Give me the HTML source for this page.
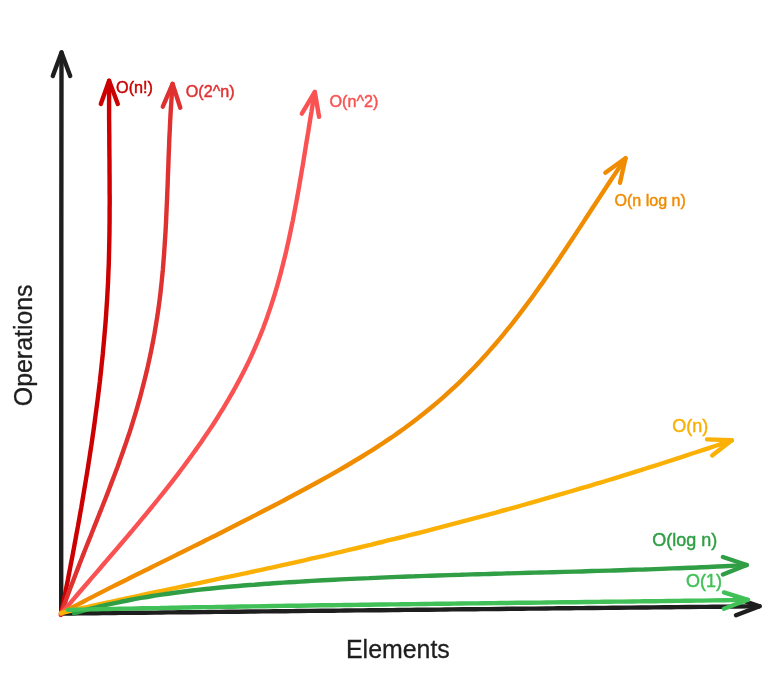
<!DOCTYPE html>
<html><head><meta charset="utf-8"><title>Big O</title>
<style>
html,body{margin:0;padding:0;background:#fff;}
body{width:769px;height:675px;overflow:hidden;}
svg{display:block;}
svg path{fill:none;stroke-width:4.4;stroke-linecap:round;stroke-linejoin:round;}
svg text{font-family:"Liberation Sans",Helvetica,Arial,sans-serif;}
</style></head><body>
<svg width="769" height="675" viewBox="0 0 769 675">
<rect width="769" height="675" fill="#ffffff"/>
<g stroke="#1e1e1e"><path d="M61.2 614.0 C61.2 561.7 61.2 393.6 61.3 300.0 C61.3 206.4 61.5 93.7 61.5 52.4"/><path d="M52.8 76.0 L61.5 52.4 L70.2 76.0"/></g>
<g stroke="#1e1e1e"><path d="M61.0 613.6 C63.0 613.6 68.9 613.5 72.8 613.5 C76.8 613.4 80.7 613.4 84.7 613.3 C88.6 613.3 92.6 613.3 96.5 613.2 C100.5 613.2 104.4 613.1 108.4 613.1 C112.3 613.0 116.3 613.0 120.2 612.9 C124.1 612.9 128.1 612.9 132.0 612.8 C136.0 612.8 139.9 612.7 143.9 612.7 C147.8 612.6 151.8 612.6 155.7 612.6 C159.7 612.5 163.6 612.5 167.6 612.4 C171.5 612.4 175.5 612.3 179.4 612.3 C183.4 612.3 187.3 612.2 191.2 612.2 C195.2 612.1 199.1 612.1 203.1 612.1 C207.0 612.0 211.0 612.0 214.9 611.9 C218.9 611.9 222.8 611.8 226.8 611.8 C230.7 611.8 234.7 611.7 238.6 611.7 C242.6 611.6 246.5 611.6 250.4 611.5 C254.4 611.5 258.3 611.5 262.3 611.4 C266.2 611.4 270.2 611.3 274.1 611.3 C278.1 611.3 282.0 611.2 286.0 611.2 C289.9 611.1 293.9 611.1 297.8 611.0 C301.8 611.0 305.7 611.0 309.7 610.9 C313.6 610.9 317.5 610.8 321.5 610.8 C325.4 610.8 329.4 610.7 333.3 610.7 C337.3 610.6 341.2 610.6 345.2 610.5 C349.1 610.5 353.1 610.5 357.0 610.4 C361.0 610.4 364.9 610.3 368.9 610.3 C372.8 610.3 376.7 610.2 380.7 610.2 C384.6 610.1 388.6 610.1 392.5 610.1 C396.5 610.0 400.4 610.0 404.4 609.9 C408.3 609.9 412.3 609.8 416.2 609.8 C420.2 609.8 424.1 609.7 428.1 609.7 C432.0 609.6 436.0 609.6 439.9 609.6 C443.8 609.5 447.8 609.5 451.7 609.4 C455.7 609.4 459.6 609.4 463.6 609.3 C467.5 609.3 471.5 609.2 475.4 609.2 C479.4 609.2 483.3 609.1 487.3 609.1 C491.2 609.0 495.2 609.0 499.1 609.0 C503.1 608.9 507.0 608.9 510.9 608.8 C514.9 608.8 518.8 608.7 522.8 608.7 C526.7 608.7 530.7 608.6 534.6 608.6 C538.6 608.5 542.5 608.5 546.5 608.5 C550.4 608.4 554.4 608.4 558.3 608.3 C562.3 608.3 566.2 608.3 570.1 608.2 C574.1 608.2 578.0 608.1 582.0 608.1 C585.9 608.1 589.9 608.0 593.8 608.0 C597.8 607.9 601.7 607.9 605.7 607.9 C609.6 607.8 613.6 607.8 617.5 607.7 C621.5 607.7 625.4 607.7 629.4 607.6 C633.3 607.6 637.2 607.5 641.2 607.5 C645.1 607.5 649.1 607.4 653.0 607.4 C657.0 607.3 660.9 607.3 664.9 607.3 C668.8 607.2 672.8 607.2 676.7 607.1 C680.7 607.1 684.6 607.1 688.6 607.0 C692.5 607.0 696.4 606.9 700.4 606.9 C704.3 606.9 708.3 606.8 712.2 606.8 C716.2 606.7 720.1 606.7 724.1 606.7 C728.0 606.6 732.0 606.6 735.9 606.5 C739.9 606.5 743.8 606.5 747.8 606.4 C751.7 606.4 757.6 606.3 759.6 606.3"/><path d="M735.5 598.0 L759.6 606.3 L736.0 615.3"/></g>
<g stroke="#cc0000"><path d="M60.9 614.9 C61.2 613.4 62.1 608.9 62.7 606.0 C63.3 603.0 63.9 600.0 64.5 597.0 C65.0 594.1 65.6 591.1 66.2 588.1 C66.8 585.1 67.4 582.1 68.0 579.2 C68.5 576.2 69.1 573.2 69.7 570.2 C70.3 567.2 70.8 564.2 71.4 561.3 C72.0 558.3 72.6 555.3 73.1 552.3 C73.7 549.3 74.2 546.3 74.8 543.3 C75.3 540.3 75.9 537.4 76.4 534.4 C77.0 531.4 77.5 528.4 78.1 525.4 C78.6 522.4 79.2 519.4 79.7 516.4 C80.2 513.4 80.7 510.4 81.3 507.4 C81.8 504.4 82.3 501.4 82.8 498.4 C83.3 495.4 83.8 492.4 84.3 489.4 C84.8 486.5 85.3 483.5 85.8 480.5 C86.3 477.5 86.8 474.5 87.3 471.4 C87.8 468.4 88.3 465.4 88.7 462.4 C89.2 459.4 89.7 456.4 90.1 453.4 C90.6 450.4 91.0 447.4 91.5 444.4 C91.9 441.4 92.4 438.4 92.8 435.4 C93.2 432.4 93.7 429.4 94.1 426.4 C94.5 423.4 94.9 420.3 95.3 417.3 C95.7 414.3 96.1 411.3 96.5 408.3 C96.9 405.3 97.3 402.3 97.7 399.3 C98.1 396.2 98.4 393.2 98.8 390.2 C99.2 387.2 99.5 384.2 99.9 381.2 C100.2 378.1 100.5 375.1 100.9 372.1 C101.2 369.1 101.5 366.1 101.8 363.1 C102.2 360.0 102.5 357.0 102.8 354.0 C103.0 351.0 103.3 347.9 103.6 344.9 C103.9 341.9 104.2 338.9 104.4 335.9 C104.7 332.8 104.9 329.8 105.2 326.8 C105.4 323.8 105.7 320.7 105.9 317.7 C106.1 314.7 106.3 311.6 106.5 308.6 C106.7 305.6 106.9 302.6 107.1 299.5 C107.3 296.5 107.4 293.5 107.6 290.4 C107.8 287.4 107.9 284.4 108.1 281.3 C108.2 278.3 108.3 275.3 108.4 272.2 C108.6 269.2 108.7 266.2 108.8 263.1 C108.9 260.1 109.0 257.1 109.0 254.0 C109.1 251.0 109.2 247.9 109.2 244.9 C109.3 241.9 109.4 238.8 109.4 235.8 C109.5 232.8 109.5 229.7 109.5 226.7 C109.6 223.6 109.6 220.6 109.6 217.6 C109.6 214.5 109.6 211.5 109.6 208.4 C109.7 205.4 109.7 202.4 109.7 199.3 C109.7 196.3 109.6 193.2 109.6 190.2 C109.6 187.2 109.6 184.1 109.6 181.1 C109.6 178.0 109.6 175.0 109.5 171.9 C109.5 168.9 109.5 165.9 109.5 162.8 C109.5 159.8 109.4 156.7 109.4 153.7 C109.4 150.7 109.4 147.6 109.3 144.6 C109.3 141.5 109.3 138.5 109.3 135.5 C109.2 132.4 109.2 129.4 109.2 126.3 C109.2 123.3 109.1 120.3 109.1 117.2 C109.1 114.2 109.1 111.2 109.1 108.1 C109.1 105.1 109.1 102.0 109.1 99.0 C109.1 96.0 109.1 92.9 109.1 89.9 C109.1 86.9 109.1 82.3 109.1 80.8"/><path d="M100.8 104.0 L109.1 80.8 L117.8 104.0"/></g>
<g stroke="#e03131"><path d="M61.0 614.3 C61.5 612.8 63.0 608.5 64.0 605.6 C65.0 602.7 66.1 599.8 67.1 596.9 C68.2 594.0 69.2 591.1 70.3 588.2 C71.4 585.3 72.5 582.5 73.6 579.6 C74.7 576.7 75.8 573.8 76.9 570.9 C78.0 568.0 79.1 565.2 80.2 562.3 C81.3 559.4 82.5 556.5 83.6 553.6 C84.7 550.7 85.9 547.9 87.0 545.0 C88.2 542.1 89.3 539.2 90.5 536.4 C91.6 533.5 92.8 530.6 93.9 527.7 C95.1 524.8 96.2 522.0 97.3 519.1 C98.5 516.2 99.6 513.3 100.8 510.4 C101.9 507.5 103.1 504.6 104.2 501.8 C105.3 498.9 106.5 496.0 107.6 493.1 C108.7 490.2 109.8 487.3 110.9 484.4 C112.0 481.5 113.1 478.6 114.2 475.7 C115.3 472.8 116.4 469.9 117.5 467.0 C118.5 464.1 119.6 461.2 120.6 458.3 C121.7 455.4 122.7 452.5 123.7 449.5 C124.7 446.6 125.8 443.7 126.7 440.8 C127.7 437.8 128.7 434.9 129.7 432.0 C130.6 429.0 131.6 426.1 132.5 423.1 C133.4 420.2 134.3 417.2 135.2 414.3 C136.1 411.3 136.9 408.4 137.8 405.4 C138.6 402.4 139.5 399.5 140.3 396.5 C141.1 393.5 141.9 390.5 142.6 387.6 C143.4 384.6 144.2 381.6 144.9 378.6 C145.6 375.6 146.4 372.6 147.1 369.6 C147.8 366.6 148.4 363.6 149.1 360.6 C149.7 357.6 150.4 354.6 151.0 351.6 C151.6 348.5 152.2 345.5 152.8 342.5 C153.4 339.5 153.9 336.5 154.5 333.4 C155.0 330.4 155.5 327.4 156.0 324.3 C156.5 321.3 157.0 318.2 157.5 315.2 C157.9 312.1 158.4 309.1 158.8 306.0 C159.2 303.0 159.6 299.9 160.0 296.8 C160.4 293.8 160.7 290.7 161.0 287.7 C161.4 284.6 161.7 281.5 162.0 278.4 C162.3 275.4 162.6 272.3 162.9 269.2 C163.1 266.1 163.4 263.0 163.6 260.0 C163.9 256.9 164.1 253.8 164.3 250.7 C164.5 247.6 164.7 244.5 164.9 241.4 C165.1 238.3 165.3 235.2 165.5 232.1 C165.7 229.0 165.8 225.9 166.0 222.8 C166.1 219.7 166.3 216.6 166.4 213.6 C166.6 210.5 166.7 207.4 166.8 204.3 C167.0 201.2 167.1 198.1 167.2 195.0 C167.3 191.9 167.5 188.7 167.6 185.6 C167.7 182.5 167.8 179.5 167.9 176.4 C168.0 173.3 168.1 170.2 168.3 167.1 C168.4 164.0 168.5 160.9 168.6 157.8 C168.7 154.7 168.8 151.6 169.0 148.5 C169.1 145.4 169.2 142.3 169.3 139.2 C169.5 136.1 169.6 133.0 169.8 130.0 C169.9 126.9 170.0 123.8 170.2 120.7 C170.4 117.6 170.5 114.6 170.7 111.5 C170.9 108.4 171.1 105.3 171.3 102.3 C171.5 99.2 171.7 96.1 171.9 93.1 C172.1 90.0 172.5 85.4 172.6 83.9"/><path d="M162.8 106.7 L172.6 83.9 L180.3 107.7"/></g>
<g stroke="#fa5252"><path d="M61.3 613.7 C62.4 612.4 65.5 608.7 67.6 606.2 C69.8 603.6 71.9 601.1 74.0 598.6 C76.2 596.1 78.3 593.6 80.5 591.0 C82.7 588.5 84.8 586.0 87.0 583.5 C89.2 580.9 91.3 578.4 93.5 575.9 C95.7 573.4 97.9 570.8 100.1 568.3 C102.2 565.7 104.4 563.2 106.6 560.6 C108.8 558.1 111.0 555.5 113.2 553.0 C115.4 550.4 117.6 547.9 119.8 545.3 C121.9 542.8 124.1 540.2 126.3 537.6 C128.5 535.0 130.7 532.5 132.9 529.9 C135.0 527.3 137.2 524.7 139.4 522.1 C141.5 519.5 143.7 516.9 145.8 514.3 C148.0 511.7 150.2 509.1 152.3 506.4 C154.4 503.8 156.6 501.2 158.7 498.5 C160.8 495.9 162.9 493.3 165.0 490.6 C167.1 487.9 169.2 485.3 171.3 482.6 C173.3 479.9 175.4 477.3 177.5 474.6 C179.5 471.9 181.5 469.2 183.6 466.5 C185.6 463.8 187.6 461.1 189.6 458.3 C191.6 455.6 193.5 452.9 195.5 450.1 C197.4 447.4 199.4 444.6 201.3 441.9 C203.2 439.1 205.1 436.3 207.0 433.6 C208.9 430.8 210.7 428.0 212.6 425.2 C214.4 422.4 216.2 419.5 218.0 416.7 C219.8 413.9 221.5 411.0 223.3 408.2 C225.0 405.3 226.7 402.4 228.4 399.6 C230.1 396.7 231.8 393.8 233.4 390.9 C235.1 388.0 236.7 385.1 238.2 382.1 C239.8 379.2 241.4 376.2 242.9 373.3 C244.4 370.3 245.9 367.3 247.4 364.3 C248.8 361.4 250.2 358.4 251.6 355.3 C253.0 352.3 254.4 349.3 255.7 346.2 C257.0 343.2 258.3 340.1 259.6 337.0 C260.8 333.9 262.1 330.8 263.3 327.7 C264.4 324.6 265.6 321.5 266.7 318.4 C267.8 315.2 268.9 312.1 270.0 308.9 C271.1 305.7 272.1 302.6 273.1 299.4 C274.1 296.2 275.1 293.0 276.0 289.8 C277.0 286.6 277.9 283.3 278.8 280.1 C279.7 276.9 280.6 273.6 281.4 270.4 C282.3 267.1 283.1 263.9 283.9 260.6 C284.7 257.3 285.5 254.1 286.3 250.8 C287.0 247.5 287.8 244.2 288.5 240.9 C289.2 237.6 290.0 234.3 290.6 231.0 C291.3 227.7 292.0 224.4 292.7 221.1 C293.3 217.8 294.0 214.5 294.6 211.1 C295.3 207.8 295.9 204.5 296.5 201.2 C297.1 197.9 297.7 194.5 298.3 191.2 C298.9 187.9 299.5 184.5 300.0 181.2 C300.6 177.9 301.2 174.6 301.7 171.2 C302.3 167.9 302.9 164.6 303.4 161.2 C303.9 157.9 304.5 154.6 305.0 151.3 C305.6 148.0 306.1 144.6 306.6 141.3 C307.2 138.0 307.7 134.7 308.3 131.4 C308.8 128.1 309.3 124.8 309.9 121.5 C310.4 118.2 310.9 114.9 311.5 111.6 C312.0 108.3 312.6 105.1 313.1 101.8 C313.7 98.5 314.5 93.6 314.8 92.0"/><path d="M301.8 113.6 L314.8 92.0 L319.1 116.8"/></g>
<g stroke="#f08c00"><path d="M61.0 613.5 C62.8 612.5 68.4 609.5 72.1 607.5 C75.8 605.6 79.5 603.6 83.2 601.7 C86.9 599.7 90.6 597.8 94.4 595.9 C98.1 593.9 101.8 592.0 105.6 590.1 C109.3 588.2 113.0 586.4 116.8 584.5 C120.5 582.6 124.3 580.7 128.0 578.9 C131.8 577.0 135.5 575.1 139.3 573.3 C143.0 571.4 146.8 569.6 150.5 567.7 C154.3 565.8 158.0 564.0 161.8 562.1 C165.5 560.3 169.3 558.4 173.0 556.6 C176.8 554.7 180.5 552.9 184.3 551.0 C188.0 549.2 191.8 547.3 195.5 545.4 C199.3 543.6 203.0 541.7 206.8 539.8 C210.5 537.9 214.3 536.1 218.0 534.2 C221.8 532.3 225.5 530.4 229.2 528.5 C233.0 526.6 236.7 524.7 240.4 522.8 C244.2 520.9 247.9 519.0 251.6 517.1 C255.3 515.2 259.1 513.3 262.8 511.3 C266.5 509.4 270.2 507.5 274.0 505.5 C277.7 503.6 281.4 501.6 285.1 499.7 C288.8 497.7 292.5 495.7 296.2 493.8 C299.9 491.8 303.6 489.8 307.3 487.8 C311.0 485.8 314.7 483.8 318.4 481.8 C322.1 479.7 325.7 477.7 329.4 475.6 C333.0 473.6 336.7 471.5 340.3 469.4 C344.0 467.3 347.6 465.2 351.2 463.0 C354.8 460.9 358.4 458.7 362.0 456.5 C365.6 454.3 369.1 452.1 372.7 449.9 C376.2 447.6 379.7 445.3 383.2 443.0 C386.7 440.7 390.2 438.3 393.6 436.0 C397.1 433.6 400.5 431.1 403.9 428.7 C407.3 426.2 410.6 423.7 413.9 421.2 C417.3 418.6 420.6 416.1 423.8 413.5 C427.1 410.8 430.3 408.2 433.6 405.5 C436.8 402.8 439.9 400.1 443.1 397.3 C446.2 394.6 449.3 391.8 452.4 388.9 C455.4 386.1 458.5 383.2 461.5 380.3 C464.4 377.4 467.4 374.4 470.3 371.4 C473.2 368.5 476.1 365.4 479.0 362.4 C481.8 359.3 484.6 356.2 487.4 353.1 C490.2 350.0 492.9 346.8 495.6 343.7 C498.3 340.5 501.0 337.3 503.7 334.1 C506.3 330.8 509.0 327.6 511.6 324.3 C514.2 321.0 516.7 317.7 519.3 314.4 C521.8 311.0 524.4 307.7 526.9 304.3 C529.4 301.0 531.9 297.6 534.3 294.2 C536.8 290.8 539.2 287.3 541.7 283.9 C544.1 280.5 546.5 277.0 548.9 273.6 C551.3 270.1 553.7 266.6 556.1 263.2 C558.4 259.7 560.8 256.2 563.1 252.7 C565.5 249.2 567.8 245.7 570.1 242.2 C572.5 238.7 574.8 235.2 577.1 231.6 C579.4 228.1 581.7 224.6 584.0 221.1 C586.3 217.6 588.6 214.1 590.9 210.5 C593.2 207.0 595.5 203.5 597.8 200.0 C600.1 196.5 602.4 193.0 604.7 189.5 C607.0 186.0 609.3 182.5 611.6 179.0 C613.9 175.6 616.2 172.1 618.5 168.6 C620.8 165.2 624.3 160.0 625.5 158.3"/><path d="M605.3 172.7 L625.5 158.3 L620.0 182.8"/></g>
<g stroke="#fab005"><path d="M61.0 613.0 C62.9 612.6 68.6 611.2 72.4 610.3 C76.3 609.5 80.1 608.6 83.9 607.7 C87.7 606.9 91.5 606.0 95.4 605.2 C99.2 604.3 103.0 603.5 106.8 602.6 C110.7 601.8 114.5 601.0 118.3 600.1 C122.1 599.3 126.0 598.5 129.8 597.7 C133.6 596.8 137.5 596.0 141.3 595.2 C145.1 594.4 148.9 593.6 152.8 592.7 C156.6 591.9 160.4 591.1 164.3 590.3 C168.1 589.5 171.9 588.7 175.8 587.9 C179.6 587.1 183.4 586.3 187.3 585.5 C191.1 584.7 194.9 583.9 198.8 583.1 C202.6 582.3 206.4 581.5 210.3 580.7 C214.1 579.9 217.9 579.1 221.8 578.2 C225.6 577.4 229.4 576.6 233.3 575.8 C237.1 575.0 240.9 574.2 244.8 573.4 C248.6 572.5 252.4 571.7 256.2 570.9 C260.1 570.1 263.9 569.2 267.7 568.4 C271.6 567.6 275.4 566.7 279.2 565.9 C283.0 565.1 286.9 564.2 290.7 563.4 C294.5 562.5 298.3 561.6 302.1 560.8 C306.0 559.9 309.8 559.1 313.6 558.2 C317.4 557.3 321.2 556.4 325.0 555.6 C328.9 554.7 332.7 553.8 336.5 552.9 C340.3 552.0 344.1 551.1 347.9 550.2 C351.7 549.3 355.5 548.4 359.4 547.5 C363.2 546.6 367.0 545.7 370.8 544.8 C374.6 543.8 378.4 542.9 382.2 542.0 C386.0 541.0 389.8 540.1 393.6 539.2 C397.4 538.2 401.2 537.3 405.0 536.3 C408.8 535.4 412.6 534.4 416.4 533.5 C420.2 532.5 424.0 531.6 427.8 530.6 C431.6 529.6 435.3 528.6 439.1 527.7 C442.9 526.7 446.7 525.7 450.5 524.7 C454.3 523.7 458.1 522.7 461.9 521.7 C465.6 520.7 469.4 519.7 473.2 518.7 C477.0 517.7 480.8 516.7 484.6 515.7 C488.3 514.6 492.1 513.6 495.9 512.6 C499.7 511.5 503.4 510.5 507.2 509.5 C511.0 508.4 514.8 507.4 518.5 506.3 C522.3 505.3 526.1 504.2 529.8 503.2 C533.6 502.1 537.4 501.0 541.1 499.9 C544.9 498.9 548.7 497.8 552.4 496.7 C556.2 495.6 560.0 494.5 563.7 493.4 C567.5 492.3 571.2 491.2 575.0 490.1 C578.7 489.0 582.5 487.9 586.2 486.8 C590.0 485.7 593.8 484.5 597.5 483.4 C601.2 482.3 605.0 481.2 608.7 480.0 C612.5 478.9 616.2 477.7 620.0 476.6 C623.7 475.4 627.5 474.3 631.2 473.1 C634.9 471.9 638.7 470.8 642.4 469.6 C646.2 468.4 649.9 467.2 653.6 466.1 C657.4 464.9 661.1 463.7 664.8 462.5 C668.6 461.3 672.3 460.1 676.0 458.9 C679.7 457.7 683.5 456.4 687.2 455.2 C690.9 454.0 694.6 452.8 698.4 451.5 C702.1 450.3 705.8 449.1 709.5 447.8 C713.2 446.6 716.9 445.3 720.7 444.1 C724.4 442.8 729.9 440.9 731.8 440.3"/><path d="M707.0 439.4 L731.8 440.3 L712.2 455.5"/></g>
<g stroke="#2f9e44"><path d="M74.0 613.3 C75.8 612.8 81.4 611.2 85.1 610.2 C88.8 609.2 92.5 608.3 96.2 607.4 C99.9 606.4 103.6 605.6 107.4 604.7 C111.1 603.9 114.8 603.1 118.6 602.3 C122.3 601.5 126.0 600.7 129.8 600.0 C133.5 599.3 137.3 598.6 141.0 597.9 C144.8 597.3 148.5 596.7 152.3 596.0 C156.0 595.4 159.8 594.9 163.6 594.3 C167.3 593.7 171.1 593.2 174.9 592.7 C178.7 592.2 182.4 591.7 186.2 591.2 C190.0 590.8 193.8 590.3 197.6 589.9 C201.4 589.5 205.2 589.1 209.0 588.7 C212.7 588.3 216.5 587.9 220.3 587.5 C224.1 587.2 227.9 586.8 231.7 586.5 C235.5 586.2 239.3 585.9 243.1 585.5 C246.9 585.2 250.8 584.9 254.6 584.7 C258.4 584.4 262.2 584.1 266.0 583.8 C269.8 583.6 273.6 583.3 277.4 583.0 C281.2 582.8 285.0 582.5 288.8 582.3 C292.6 582.1 296.5 581.8 300.3 581.6 C304.1 581.4 307.9 581.1 311.7 580.9 C315.5 580.7 319.3 580.5 323.1 580.3 C326.9 580.1 330.8 579.9 334.6 579.7 C338.4 579.5 342.2 579.3 346.0 579.1 C349.8 578.9 353.7 578.8 357.5 578.6 C361.3 578.4 365.1 578.2 368.9 578.1 C372.7 577.9 376.5 577.7 380.4 577.6 C384.2 577.4 388.0 577.3 391.8 577.1 C395.6 577.0 399.5 576.8 403.3 576.7 C407.1 576.5 410.9 576.4 414.7 576.3 C418.5 576.1 422.4 576.0 426.2 575.9 C430.0 575.7 433.8 575.6 437.6 575.5 C441.5 575.4 445.3 575.2 449.1 575.1 C452.9 575.0 456.7 574.9 460.6 574.8 C464.4 574.6 468.2 574.5 472.0 574.4 C475.8 574.3 479.7 574.2 483.5 574.1 C487.3 574.0 491.1 573.9 494.9 573.8 C498.8 573.7 502.6 573.6 506.4 573.4 C510.2 573.3 514.0 573.2 517.9 573.1 C521.7 573.0 525.5 572.9 529.3 572.8 C533.1 572.7 537.0 572.6 540.8 572.5 C544.6 572.4 548.4 572.3 552.2 572.2 C556.1 572.1 559.9 572.0 563.7 571.9 C567.5 571.8 571.3 571.7 575.2 571.6 C579.0 571.5 582.8 571.4 586.6 571.2 C590.4 571.1 594.3 571.0 598.1 570.9 C601.9 570.8 605.7 570.7 609.5 570.6 C613.3 570.4 617.2 570.3 621.0 570.2 C624.8 570.1 628.6 570.0 632.4 569.8 C636.2 569.7 640.1 569.6 643.9 569.5 C647.7 569.3 651.5 569.2 655.3 569.1 C659.1 568.9 663.0 568.8 666.8 568.6 C670.6 568.5 674.4 568.3 678.2 568.2 C682.0 568.0 685.8 567.9 689.6 567.7 C693.5 567.6 697.3 567.4 701.1 567.2 C704.9 567.1 708.7 566.9 712.5 566.7 C716.3 566.5 720.1 566.4 723.9 566.2 C727.8 566.0 731.6 565.8 735.4 565.6 C739.2 565.4 744.9 565.1 746.8 565.0"/><path d="M722.9 557.0 L746.8 565.0 L722.9 574.5"/></g>
<g stroke="#40c057"><path d="M68.0 609.9 C69.9 609.9 75.7 609.7 79.5 609.6 C83.4 609.6 87.2 609.5 91.0 609.4 C94.9 609.3 98.7 609.2 102.6 609.1 C106.4 609.0 110.3 609.0 114.1 608.9 C117.9 608.8 121.8 608.7 125.6 608.6 C129.5 608.6 133.3 608.5 137.1 608.4 C141.0 608.3 144.8 608.3 148.7 608.2 C152.5 608.1 156.4 608.0 160.2 608.0 C164.0 607.9 167.9 607.8 171.7 607.7 C175.6 607.7 179.4 607.6 183.2 607.5 C187.1 607.5 190.9 607.4 194.8 607.3 C198.6 607.3 202.5 607.2 206.3 607.1 C210.1 607.1 214.0 607.0 217.8 606.9 C221.7 606.9 225.5 606.8 229.3 606.7 C233.2 606.7 237.0 606.6 240.9 606.5 C244.7 606.5 248.6 606.4 252.4 606.4 C256.2 606.3 260.1 606.2 263.9 606.2 C267.8 606.1 271.6 606.1 275.4 606.0 C279.3 605.9 283.1 605.9 287.0 605.8 C290.8 605.8 294.7 605.7 298.5 605.7 C302.3 605.6 306.2 605.5 310.0 605.5 C313.9 605.4 317.7 605.4 321.5 605.3 C325.4 605.3 329.2 605.2 333.1 605.2 C336.9 605.1 340.8 605.1 344.6 605.0 C348.4 605.0 352.3 604.9 356.1 604.9 C360.0 604.8 363.8 604.8 367.7 604.7 C371.5 604.6 375.3 604.6 379.2 604.5 C383.0 604.5 386.9 604.4 390.7 604.4 C394.5 604.4 398.4 604.3 402.2 604.3 C406.1 604.2 409.9 604.2 413.8 604.1 C417.6 604.1 421.4 604.0 425.3 604.0 C429.1 603.9 433.0 603.9 436.8 603.8 C440.6 603.8 444.5 603.7 448.3 603.7 C452.2 603.6 456.0 603.6 459.9 603.5 C463.7 603.5 467.5 603.4 471.4 603.4 C475.2 603.4 479.1 603.3 482.9 603.3 C486.8 603.2 490.6 603.2 494.4 603.1 C498.3 603.1 502.1 603.0 506.0 603.0 C509.8 602.9 513.6 602.9 517.5 602.8 C521.3 602.8 525.2 602.8 529.0 602.7 C532.9 602.7 536.7 602.6 540.5 602.6 C544.4 602.5 548.2 602.5 552.1 602.4 C555.9 602.4 559.7 602.3 563.6 602.3 C567.4 602.3 571.3 602.2 575.1 602.2 C579.0 602.1 582.8 602.1 586.6 602.0 C590.5 602.0 594.3 601.9 598.2 601.9 C602.0 601.8 605.9 601.8 609.7 601.7 C613.5 601.7 617.4 601.6 621.2 601.6 C625.1 601.5 628.9 601.5 632.7 601.5 C636.6 601.4 640.4 601.4 644.3 601.3 C648.1 601.3 652.0 601.2 655.8 601.2 C659.6 601.1 663.5 601.1 667.3 601.0 C671.2 601.0 675.0 600.9 678.8 600.9 C682.7 600.8 686.5 600.8 690.4 600.7 C694.2 600.7 698.1 600.6 701.9 600.6 C705.7 600.5 709.6 600.4 713.4 600.4 C717.3 600.3 721.1 600.3 724.9 600.2 C728.8 600.2 732.6 600.1 736.5 600.1 C740.3 600.0 746.1 599.9 748.0 599.9"/><path d="M723.9 592.4 L748.0 599.8 L723.9 608.8"/></g>
<text transform="translate(116.1 93.1) scale(1 1.04)" font-size="16.2px" fill="#cc0000" stroke="#cc0000" stroke-width="0.45">O(n!)</text>
<text transform="translate(185.8 97.3) scale(1 1.04)" font-size="16.15px" fill="#e03131" stroke="#e03131" stroke-width="0.45">O(2^n)</text>
<text transform="translate(329.5 107.3) scale(1 1.04)" font-size="16.15px" fill="#fa5252" stroke="#fa5252" stroke-width="0.45">O(n^2)</text>
<text transform="translate(614.4 206.1) scale(1 1.04)" font-size="16.1px" fill="#f08c00" stroke="#f08c00" stroke-width="0.45">O(n log n)</text>
<text transform="translate(672.2 432.4) scale(1 1.04)" font-size="18.0px" fill="#fab005" stroke="#fab005" stroke-width="0.45">O(n)</text>
<text transform="translate(652.2 546.1) scale(1 1.04)" font-size="18.0px" fill="#2f9e44" stroke="#2f9e44" stroke-width="0.45">O(log n)</text>
<text transform="translate(685.9 587.3) scale(1 1.04)" font-size="18.0px" fill="#40c057" stroke="#40c057" stroke-width="0.45">O(1)</text>
<text transform="translate(346.0 657.8) scale(1 1.04)" font-size="24.9px" fill="#1e1e1e" stroke="#1e1e1e" stroke-width="0.3">Elements</text>
<text transform="translate(32.0 406.2) rotate(-90) scale(1 1.04)" font-size="24.9px" fill="#1e1e1e" stroke="#1e1e1e" stroke-width="0.3">Operations</text>
</svg>
</body></html>
